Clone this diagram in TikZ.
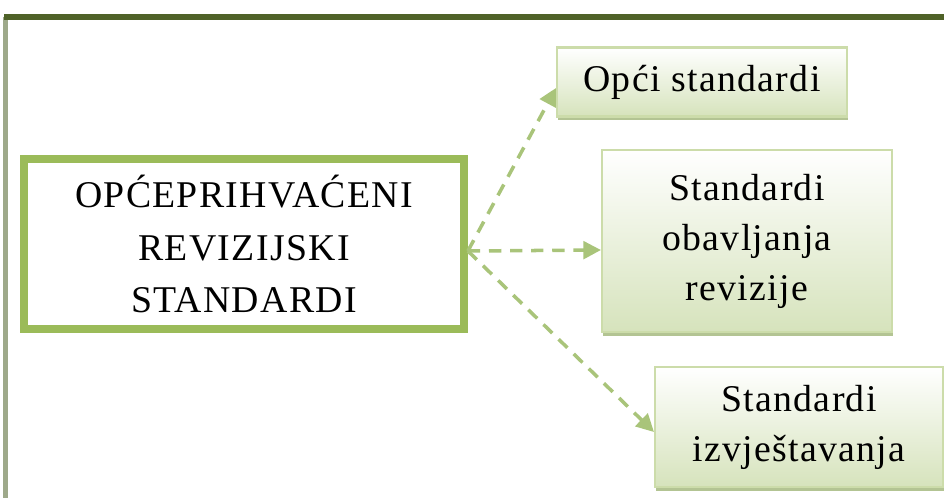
\documentclass[tikz,border=0pt]{standalone}
\usepackage{fontspec}
\setmainfont{Liberation Serif}[LetterSpace=3.5]
\usetikzlibrary{arrows.meta,shadows}

\definecolor{framedark}{HTML}{4F6228}
\definecolor{framegray}{HTML}{9EA98A}
\definecolor{maingreen}{HTML}{9BBB59}
\definecolor{subline}{HTML}{CCDCAA}
\definecolor{subfill}{HTML}{D6E3BC}
\definecolor{subshadow}{HTML}{B3C493}
\definecolor{linkgreen}{HTML}{A9C47A}

\tikzset{
	mainbox/.style={draw=maingreen, line width=4.5pt, fill=white,
		minimum width=8.8cm, minimum height=3.4cm, align=center,
		font=\fontsize{21.5}{30}\selectfont},
	stdbox/.style={draw=subline, line width=1.2pt, top color=white, bottom color=subfill,
		minimum width=5.8cm, align=center, font=\fontsize{21.5}{28.5}\selectfont,
		drop shadow={shadow xshift=0.02cm, shadow yshift=-0.08cm, fill=subshadow, opacity=1}},
	link/.style={draw=linkgreen, line width=2pt, dash pattern=on 7pt off 5pt,
		-{Triangle[length=10pt,width=10pt]}}
}

\begin{document}
\begin{tikzpicture}[x=0.02cm, y=-0.02cm]
	\useasboundingbox (0,0) rectangle (944,498);
%	frame of the figure
	\draw[framegray, line width=2.5pt] (5.5,17) -- (5.5,498);
	\draw[framedark, line width=3pt] (4,17) -- (944,17);

	\node[mainbox] (gaas) at (244,244) {OPĆEPRIHVAĆENI\\REVIZIJSKI\\STANDARDI};

	\node[stdbox, minimum height=1.38cm] (opci) at (702,82) {Opći standardi};
	\node[stdbox, minimum height=3.64cm] (obav) at (747,241) {Standardi\\obavljanja\\revizije};
	\node[stdbox, minimum width=5.76cm, minimum height=2.4cm] (izvj) at (799,427) {Standardi\\izvještavanja};

	\coordinate (hub) at ([yshift=-0.14cm]gaas.east);

	\draw[link] (hub) -- ([yshift=-0.12cm]opci.west);
	\draw[link] (hub) -- ([yshift=-0.18cm]obav.west);
	\draw[link] (hub) -- ([yshift=-0.1cm]izvj.west);
\end{tikzpicture}
\end{document}
